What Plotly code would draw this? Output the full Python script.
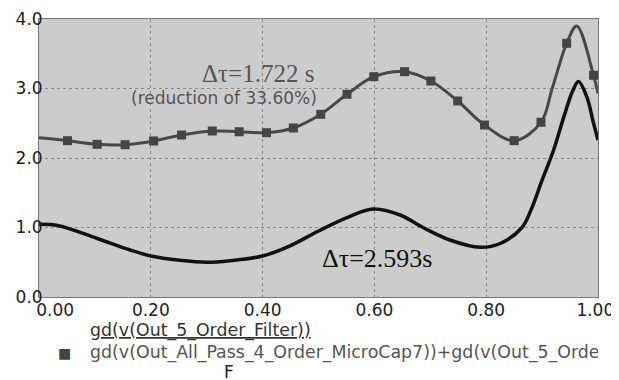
import plotly.graph_objects as go

# ---- data ----
x_ticks = [0.0, 0.2, 0.4, 0.6, 0.8, 1.0]
x_ticktext = ["\u00a0" * 6 + "0.00", "0.20", "0.40", "0.60", "0.80", "1.00\u00a0"]
y_ticks = [0, 1, 2, 3, 4]
y_ticktext = ["0.0", "1.0", "2.0", "3.0", "4.0"]

# black curve: gd(v(Out_5_Order_Filter))
filt_x = [0.0, 0.035, 0.103, 0.163, 0.2, 0.252, 0.30, 0.342, 0.40, 0.45, 0.50,
          0.55, 0.598, 0.646, 0.687, 0.735, 0.789, 0.825, 0.864, 0.88, 0.90, 0.92,
          0.94, 0.955, 0.965, 0.98, 0.992, 1.0]
filt_y = [1.045, 1.025, 0.845, 0.676, 0.59, 0.528, 0.50, 0.523, 0.59, 0.74, 0.95,
          1.14, 1.266, 1.18, 1.0, 0.82, 0.715, 0.77, 1.0, 1.25, 1.68, 2.10,
          2.62, 2.97, 3.10, 2.88, 2.50, 2.26]

# gray curve with square markers: all-pass + filter
comb_mx = [0.051, 0.104, 0.154, 0.205, 0.255, 0.310, 0.358, 0.407, 0.455, 0.504,
           0.551, 0.599, 0.654, 0.701, 0.749, 0.797, 0.850, 0.898, 0.944, 0.992]
comb_my = [2.249, 2.197, 2.191, 2.245, 2.331, 2.388, 2.378, 2.364, 2.432, 2.629,
           2.917, 3.170, 3.242, 3.108, 2.820, 2.475, 2.249, 2.514, 3.650, 3.190]
# extra points on the gray line (ends, crossing, peak)
comb_lx = [0.0] + comb_mx[:18] + [0.918] + [comb_mx[18], 0.962, comb_mx[19], 1.0]
comb_ly = [2.29] + comb_my[:18] + [3.0] + [comb_my[18], 3.90, comb_my[19], 2.93]

FONT = "DejaVu Sans"
SERIF = "Liberation Serif"

# page body has an 8px margin: figure is offset by (8, 8) in the window
OFF = 8
W, H = 619 - OFF, 380 - OFF
# plot area in window pixels
L, R, T, B = 39, 598, 19, 297


def px(x):
    return (x - L) / (R - L)


def py(y):
    return (B - y) / (B - T)


fig = go.Figure()
fig.add_trace(go.Scatter(x=filt_x, y=filt_y, mode="lines",
                         line=dict(color="#111111", width=3.5, shape="spline"),
                         showlegend=False, hoverinfo="skip"))
fig.add_trace(go.Scatter(x=comb_lx, y=comb_ly, mode="lines",
                         line=dict(color="#484848", width=3, shape="spline"),
                         showlegend=False, hoverinfo="skip"))
fig.add_trace(go.Scatter(x=comb_mx, y=comb_my, mode="markers",
                         marker=dict(symbol="square", size=9, color="#454545"),
                         showlegend=False, hoverinfo="skip"))

axis_common = dict(showgrid=True, gridcolor="#8a8a8a", griddash="dot", gridwidth=1,
                   showline=True, mirror=True, linecolor="#777777", linewidth=1,
                   zeroline=False, ticks="", automargin=False, ticklabeloverflow="allow",
                   tickfont=dict(family=FONT, size=17, color="#222222"))

fig.update_layout(
    width=W, height=H,
    margin=dict(l=L - OFF, r=619 - R, t=T - OFF, b=380 - B),
    paper_bgcolor="white", plot_bgcolor="#cccccc",
    xaxis=dict(range=[0, 1], tickmode="array", tickvals=x_ticks, ticktext=x_ticktext,
               ticklabelstandoff=-2, **axis_common),
    yaxis=dict(range=[0, 4], tickmode="array", tickvals=y_ticks, ticktext=y_ticktext,
               ticklabelstandoff=-8, **axis_common),
    annotations=[
        dict(x=0.3925, y=3.216, xref="x", yref="y", text="\u0394\u03c4=1.722 s", showarrow=False,
             font=dict(family=SERIF, size=25, color="#555555")),
        dict(x=0.331, y=2.863, xref="x", yref="y", text="(reduction of 33.60%)", showarrow=False,
             font=dict(family=FONT, size=17, color="#555555")),
        dict(x=0.604, y=0.547, xref="x", yref="y", text="\u0394\u03c4=2.593s", showarrow=False,
             font=dict(family=SERIF, size=26, color="#111111")),
        dict(x=px(88), y=py(330), xref="paper", yref="paper", xanchor="left", yanchor="middle",
             text='<span style="text-decoration:underline">gd(v(Out_5_Order_Filter))</span>',
             showarrow=False, font=dict(family=FONT, size=17.4, color="#333333")),
        dict(x=px(64.5), y=py(352.5), xref="paper", yref="paper", xanchor="center", yanchor="middle",
             text="\u25a0", showarrow=False, font=dict(family=FONT, size=14, color="#454545")),
        dict(x=px(88), y=py(352), xref="paper", yref="paper", xanchor="left", yanchor="middle",
             width=508, align="left",
             text="gd(v(Out_All_Pass_4_Order_MicroCap7))+gd(v(Out_5_Order_Filter))",
             showarrow=False, font=dict(family=FONT, size=17.4, color="#555555")),
        dict(x=px(229), y=py(372), xref="paper", yref="paper", xanchor="center", yanchor="middle",
             text="F", showarrow=False, font=dict(family=FONT, size=17, color="#222222")),
    ],
)

fig.write_html("out.html")
